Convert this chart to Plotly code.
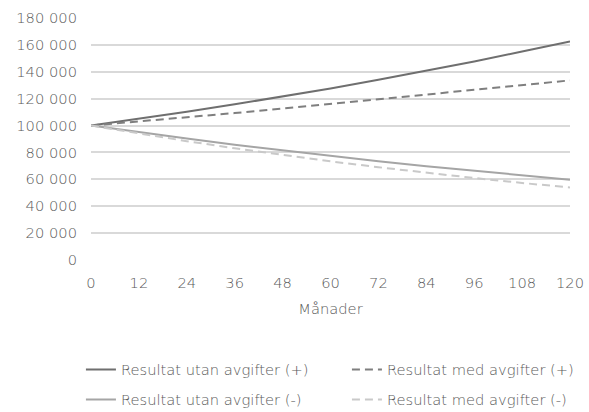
import plotly.graph_objects as go

months = [0, 12, 24, 36, 48, 60, 72, 84, 96, 108, 120]
utan_plus = [100000, 105000, 110300, 115800, 121600, 127600, 134000, 140700, 147700, 155100, 162600]
med_plus = [100000, 103000, 106100, 109300, 112600, 115900, 119400, 123000, 126700, 130300, 133600]
utan_minus = [100000, 95000, 90300, 85700, 81500, 77400, 73500, 69800, 66300, 63000, 59700]
med_minus = [100000, 94000, 88400, 83100, 78100, 73400, 69000, 64800, 61000, 57300, 53900]

names = ["Resultat utan avgifter (+)", "Resultat med avgifter (+)",
         "Resultat utan avgifter (-)", "Resultat med avgifter (-)"]
y_ticks = [0, 20000, 40000, 60000, 80000, 100000, 120000, 140000, 160000, 180000]
x_ticks = months

FONT = "DejaVu Sans"
TXT = "#5a5a5a"
FS = 14.7

fig = go.Figure()
series = [
    (utan_plus, names[0], "#6f6f6f", "solid", "legend"),
    (med_plus, names[1], "#7f7f7f", "8px,5px", "legend"),
    (utan_minus, names[2], "#a5a5a5", "solid", "legend2"),
    (med_minus, names[3], "#c9c9c9", "8px,5px", "legend2"),
]
for ys, nm, col, dash, lg in series:
    fig.add_trace(go.Scatter(x=months, y=ys, name=nm, mode="lines",
                             line=dict(color=col, width=2, dash=dash),
                             legend=lg))

font = dict(family=FONT, size=FS, color=TXT, weight=300)

legend_common = dict(orientation="h", xanchor="left", x=-0.021, yanchor="middle",
                     font=font, bgcolor="rgba(0,0,0,0)", entrywidth=221,
                     itemwidth=30, tracegroupgap=0)

fig.update_layout(
    width=589, height=412,
    margin=dict(l=91, r=19, t=18, b=152, autoexpand=False),
    paper_bgcolor="white", plot_bgcolor="white",
    separators=", ",
    font=font,
    hovermode=False,
    xaxis=dict(range=[0, 120], tickvals=x_ticks, showgrid=False, zeroline=False,
               showline=False, ticks="", ticklabelstandoff=12,
               tickfont=font,
               title=dict(text="Månader", standoff=14, font=font)),
    yaxis=dict(range=[0, 180000], tickvals=y_ticks, tickformat=",d",
               showgrid=True, gridcolor="#d9d9d9", gridwidth=1.5,
               zeroline=False, showline=False, ticks="", ticklabelstandoff=13,
               tickfont=font),
    legend=dict(**legend_common, y=-0.4545),
    legend2=dict(**legend_common, y=-0.5785),
)

# remove the default 8px page margin so the figure fills the window exactly
fig.write_html(
    "out.html",
    config={"displayModeBar": False, "staticPlot": False},
    post_script="document.body.style.margin='0';"
                "document.body.style.overflow='hidden';"
                "document.documentElement.style.overflow='hidden';",
)
